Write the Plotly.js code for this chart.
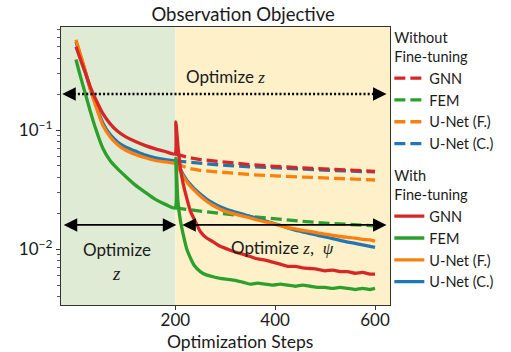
<!DOCTYPE html>
<html>
<head>
<meta charset="utf-8">
<script src="https://cdn.plot.ly/plotly-3.0.1.min.js"></script>
<style>
  html, body { margin: 0; padding: 0; background: #fff; }
  #chart { width: 511px; height: 352px; }
</style>
</head>
<body>
<div id="chart"></div>
<script>
// ---- Data ----
const stepsFT = [1, 10, 20, 30, 40, 55, 70, 85, 100, 120, 140, 160, 180, 199,
  201, 205, 210, 216, 223, 230, 238, 250, 262, 275, 290, 305, 320, 335, 350, 365,
  380, 395, 410, 425, 440, 455, 470, 485, 500, 515, 530, 545, 560, 575, 590, 600];

const gnnFT = [0.50, 0.39, 0.30, 0.228, 0.183, 0.137, 0.112, 0.097, 0.088, 0.080, 0.0740, 0.0695, 0.0660, 0.0630,
  0.117, 0.075, 0.048, 0.035, 0.0267, 0.021, 0.0178, 0.0141, 0.0125, 0.0116, 0.0106, 0.0100, 0.0095, 0.0091, 0.0087, 0.0083,
  0.0081, 0.0078, 0.0075, 0.0072, 0.0072, 0.0070, 0.0069, 0.0068, 0.0066, 0.0067, 0.0065, 0.0065, 0.0063, 0.0064, 0.0062, 0.0062];

const femFT = [0.39, 0.28, 0.20, 0.142, 0.104, 0.070, 0.055, 0.047, 0.041, 0.0345, 0.0300, 0.0262, 0.0238, 0.0222,
  0.058, 0.026, 0.0175, 0.0132, 0.0100, 0.0085, 0.0073, 0.0065, 0.0061, 0.0059, 0.0057, 0.0056, 0.0055, 0.0053, 0.0051, 0.0052,
  0.0051, 0.0050, 0.0051, 0.0050, 0.0049, 0.0050, 0.0049, 0.0048, 0.0048, 0.0047, 0.0048, 0.0047, 0.0046, 0.0047, 0.0046, 0.0047];

const unetFFT = [0.57, 0.43, 0.31, 0.218, 0.162, 0.109, 0.087, 0.075, 0.068, 0.0625, 0.0585, 0.0555, 0.0540, 0.0526,
  0.0522, 0.049, 0.045, 0.0406, 0.0368, 0.0338, 0.0312, 0.0280, 0.0254, 0.0234, 0.0217, 0.0205, 0.0197, 0.0190, 0.0183, 0.0176,
  0.0170, 0.0164, 0.0158, 0.0152, 0.0148, 0.0144, 0.0141, 0.0137, 0.0134, 0.0131, 0.0128, 0.0126, 0.0124, 0.0121, 0.0120, 0.0117];

const unetCFT = [0.55, 0.42, 0.305, 0.218, 0.165, 0.114, 0.091, 0.079, 0.072, 0.0665, 0.0615, 0.0585, 0.0565, 0.0550,
  0.0545, 0.051, 0.047, 0.042, 0.038, 0.035, 0.0322, 0.0290, 0.0265, 0.0245, 0.0227, 0.0214, 0.0205, 0.0197, 0.0189, 0.0181,
  0.0173, 0.0166, 0.0159, 0.0151, 0.0145, 0.0140, 0.0135, 0.0131, 0.0127, 0.0123, 0.0119, 0.0115, 0.0112, 0.0109, 0.0106, 0.0104];

const stepsNoFT = [200, 210, 225, 250, 300, 350, 400, 450, 500, 550, 600];
const gnnNoFT   = [0.063, 0.061, 0.059, 0.0565, 0.0535, 0.0512, 0.0495, 0.0482, 0.0470, 0.0460, 0.0450];
const femNoFT   = [0.0222, 0.0219, 0.0215, 0.0209, 0.0198, 0.0188, 0.0179, 0.0172, 0.0166, 0.0161, 0.0157];
const unetFNoFT = [0.0526, 0.0505, 0.0480, 0.0458, 0.0437, 0.0423, 0.0412, 0.0403, 0.0395, 0.0388, 0.0381];
const unetCNoFT = [0.0550, 0.0545, 0.0537, 0.0522, 0.0505, 0.0492, 0.0480, 0.0469, 0.0460, 0.0452, 0.0445];

const modelNames = ['GNN', 'FEM', 'U-Net (F.)', 'U-Net (C.)'];
const xTickVals = [200, 400, 600];
const yTickVals = [0.01, 0.1];
const yTickText = ['10<sup>\u22122</sup>', '10<sup>\u22121</sup>'];
const phaseSplit = 200;

// ---- Styling ----
const C = { red: '#d62728', green: '#2ca02c', orange: '#ff7f0e', blue: '#1f77b4' };
const FONT = 'Lato, "Open Sans", sans-serif';
const MATH = '"Liberation Serif", "DejaVu Serif", serif';
const MATHCSS = "font-family:'Liberation Serif', serif";
const TXT = '#1a1a1a';
const xRange = [-29, 630];
const yRangeLog = [-2.467, -0.1366];

function dashed(name, y, color, rank) {
  return { x: stepsNoFT, y: y, name: name, type: 'scatter', mode: 'lines',
    line: { color: color, width: 3.3, dash: '11px,5px' },
    legendgroup: 'without', legendgrouptitle: { text: 'Without<br>Fine-tuning' },
    legendrank: rank, hoverinfo: 'skip' };
}
function solid(name, y, color, rank) {
  return { x: stepsFT, y: y, name: name, type: 'scatter', mode: 'lines',
    line: { color: color, width: 3.3, shape: 'spline', smoothing: 0.6 },
    legendgroup: 'with', legendgrouptitle: { text: 'With<br>Fine-tuning' },
    legendrank: rank, hoverinfo: 'skip' };
}

const traces = [
  dashed(modelNames[3], unetCNoFT, C.blue, 4),
  dashed(modelNames[2], unetFNoFT, C.orange, 3),
  dashed(modelNames[1], femNoFT, C.green, 2),
  dashed(modelNames[0], gnnNoFT, C.red, 1),
  solid(modelNames[3], unetCFT, C.blue, 8),
  solid(modelNames[2], unetFFT, C.orange, 7),
  solid(modelNames[1], femFT, C.green, 6),
  solid(modelNames[0], gnnFT, C.red, 5)
];

function ylogToPaper(v) { return (Math.log10(v) - yRangeLog[0]) / (yRangeLog[1] - yRangeLog[0]); }
const yDotted = ylogToPaper(0.2);
const ySolidArrow = ylogToPaper(0.016);

const arrowBase = { xref: 'x', yref: 'paper', axref: 'x', ayref: 'pixel', ay: 0, text: '', showarrow: true,
  arrowhead: 2, arrowsize: 1.5, arrowwidth: 1.8, arrowcolor: '#000', standoff: 0, startstandoff: 0 };
const label = { xref: 'x', yref: 'paper', showarrow: false, xanchor: 'center', yanchor: 'middle',
  font: { family: FONT, size: 17, color: TXT } };

const layout = {
  width: 511, height: 352,
  margin: { l: 61, r: 114, t: 27, b: 47, pad: 0 },
  paper_bgcolor: '#fff', plot_bgcolor: '#fff',
  font: { family: FONT, color: TXT, size: 17 },
  showlegend: true,
  title: { text: 'Observation Objective', font: { family: FONT, size: 18.5, color: TXT },
    x: (247 - 61) / 336, xref: 'paper', xanchor: 'center', y: 1 - 15 / 352, yref: 'container', yanchor: 'middle' },
  xaxis: {
    type: 'linear', range: xRange, tickvals: xTickVals, ticks: 'outside', ticklen: 4, tickwidth: 1, tickcolor: '#333',
    showline: true, linecolor: '#333', linewidth: 1.2, mirror: true, showgrid: false, zeroline: false,
    tickfont: { family: FONT, size: 17, color: TXT }, ticklabelstandoff: -5
  },
  yaxis: {
    type: 'log', range: yRangeLog, tickvals: yTickVals, ticktext: yTickText, ticks: 'outside', ticklen: 4, tickwidth: 1,
    tickcolor: '#333', showline: true, linecolor: '#333', linewidth: 1.2, mirror: true, showgrid: false, zeroline: false,
    tickfont: { family: FONT, size: 17, color: TXT },
    minor: { tickvals: [0.004, 0.005, 0.006, 0.007, 0.008, 0.009, 0.02, 0.03, 0.04, 0.05, 0.06, 0.07, 0.08, 0.09, 0.2, 0.3, 0.4, 0.5, 0.6, 0.7],
      ticks: 'outside', ticklen: 2.5, tickwidth: 0.8, tickcolor: '#333', showgrid: false }
  },
  legend: {
    x: 0.998, xanchor: 'left', y: 1.02, yanchor: 'top', bgcolor: 'rgba(0,0,0,0)', borderwidth: 0,
    font: { family: FONT, size: 14.5, color: TXT },
    grouptitlefont: { family: FONT, size: 14.5, color: TXT },
    tracegroupgap: 10, itemwidth: 30, traceorder: 'grouped', maxheight: 340
  },
  shapes: [
    { type: 'rect', xref: 'x', yref: 'paper', x0: xRange[0], x1: phaseSplit, y0: 0, y1: 1,
      fillcolor: '#e0ebd5', line: { width: 0 }, layer: 'below' },
    { type: 'rect', xref: 'x', yref: 'paper', x0: phaseSplit, x1: xRange[1], y0: 0, y1: 1,
      fillcolor: '#fef0c9', line: { width: 0 }, layer: 'below' },
    { type: 'line', xref: 'x', yref: 'paper', x0: -12, x1: 610, y0: yDotted, y1: yDotted,
      line: { color: '#000', width: 2.5, dash: '2px,2.2px' }, layer: 'above' }
  ],
  annotations: [
    Object.assign({}, arrowBase, { x: -26.5, y: yDotted, ax: -4 }),
    Object.assign({}, arrowBase, { x: 623, y: yDotted, ax: 600 }),
    Object.assign({}, arrowBase, { x: 202, y: ySolidArrow, ax: -26.5, arrowside: 'end+start' }),
    Object.assign({}, arrowBase, { x: 623, y: ySolidArrow, ax: 211, arrowside: 'end+start' }),
    Object.assign({}, label, { x: 300, y: (305 - 76) / 278,
      text: 'Optimize <span style="' + MATHCSS + '"><i>z</i></span>' }),
    Object.assign({}, label, { x: 83, y: (305 - 249) / 278, text: 'Optimize' }),
    Object.assign({}, label, { x: 83, y: (305 - 273) / 278, text: '<i>z</i>',
      font: { family: MATH, size: 19, color: TXT } }),
    Object.assign({}, label, { x: 415, y: (305 - 248) / 278,
      text: 'Optimize <span style="' + MATHCSS + '"><i>z</i>,  <i>\u03c8</i></span>' }),
    // x-axis title (centred like the reference, slightly right of the axis centre)
    { xref: 'paper', yref: 'paper', x: (244 - 61) / 336, y: (305 - 341) / 278, xanchor: 'center', yanchor: 'middle',
      showarrow: false, borderpad: 0, text: 'Optimization Steps', font: { family: FONT, size: 17.5, color: TXT } }
  ]
};

Plotly.newPlot('chart', traces, layout, { displayModeBar: false, staticPlot: true });
</script>
</body>
</html>
